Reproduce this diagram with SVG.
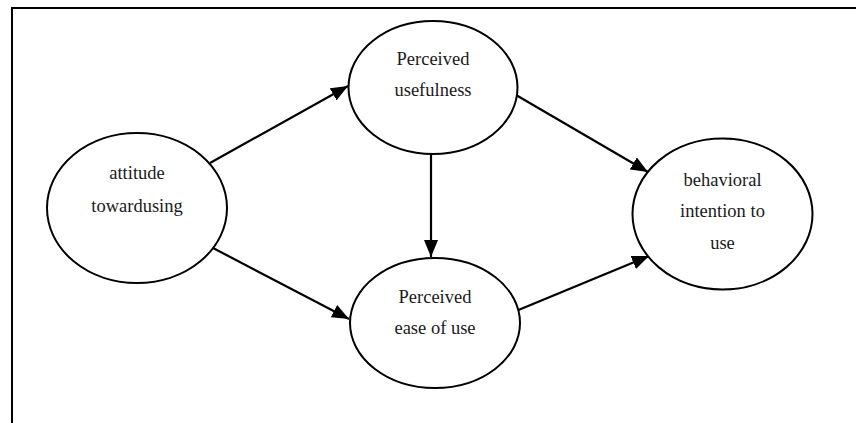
<svg xmlns="http://www.w3.org/2000/svg" width="856" height="423" viewBox="0 0 856 423">
  <style>
    .node ellipse { fill: #fff; stroke: #000; stroke-width: 2; }
    .node text { font-family: 'Liberation Serif', 'Times New Roman', serif; font-size: 18.5px; fill: #1a1a1a; text-anchor: middle; }
    .edge { stroke: #000; stroke-width: 2.2; fill: none; marker-end: url(#arrow); }
    .frame { stroke: #000; stroke-width: 2; fill: none; }
  </style>
  <defs>
    <marker id="arrow" markerUnits="userSpaceOnUse" markerWidth="17" markerHeight="14" viewBox="0 0 17 14" refX="17" refY="7" orient="auto">
      <path d="M0,0 L17,7 L0,14 Z" fill="#000"/>
    </marker>
  </defs>
  <rect width="856" height="423" fill="#fff"/>

  <!-- page frame: top and left edges only -->
  <path class="frame" d="M12,423 L12,8 L856,8"/>

  <g id="connectors">
    <line class="edge" x1="210" y1="163" x2="348" y2="86"/>
    <line class="edge" x1="213" y1="248" x2="349" y2="319"/>
    <line class="edge" x1="431" y1="154" x2="431" y2="257"/>
    <line class="edge" x1="516" y1="95" x2="648" y2="172"/>
    <line class="edge" x1="516" y1="311" x2="649" y2="256"/>
  </g>

  <g id="attitude" class="node" font-family="Liberation Serif, serif">
    <ellipse cx="137" cy="208" rx="90" ry="75"/>
    <text x="137" y="179">attitude</text>
    <text x="137" y="212">towardusing</text>
  </g>

  <g id="usefulness" class="node" font-family="Liberation Serif, serif">
    <ellipse cx="433" cy="87.5" rx="84.5" ry="66.5"/>
    <text x="433" y="65">Perceived</text>
    <text x="433" y="96">usefulness</text>
  </g>

  <g id="ease" class="node" font-family="Liberation Serif, serif">
    <ellipse cx="435" cy="323" rx="85" ry="65"/>
    <text x="435" y="303">Perceived</text>
    <text x="435" y="334">ease of use</text>
  </g>

  <g id="intention" class="node" font-family="Liberation Serif, serif">
    <ellipse cx="722.5" cy="214" rx="90" ry="75.5"/>
    <text x="722.5" y="186">behavioral</text>
    <text x="722.5" y="217">intention to</text>
    <text x="722.5" y="249">use</text>
  </g>
</svg>
